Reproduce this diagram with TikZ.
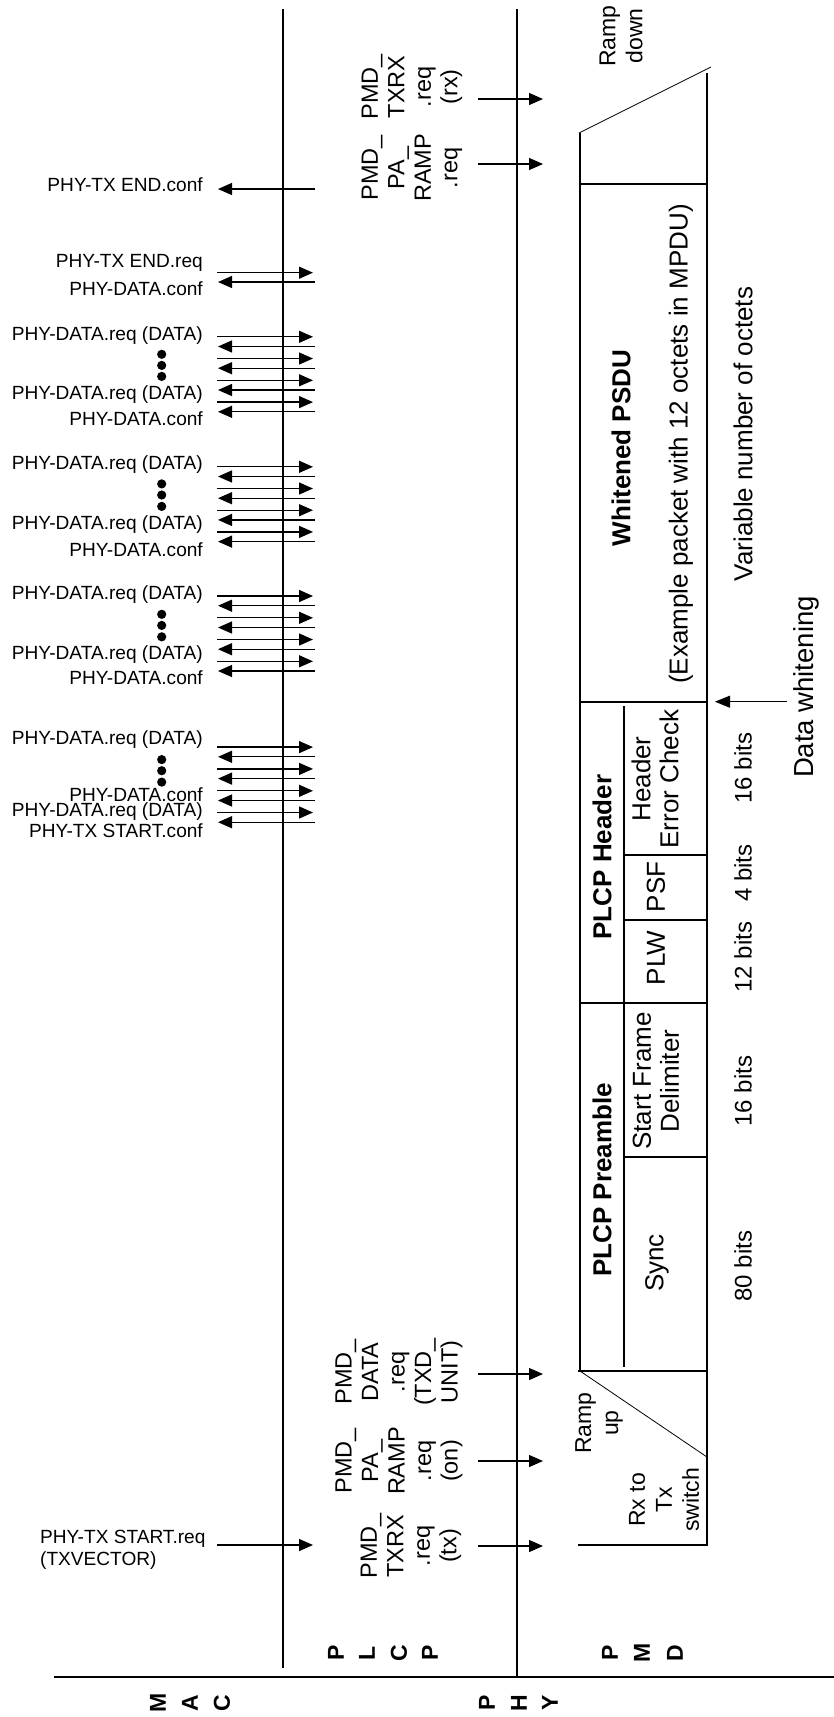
\documentclass[tikz,border=0pt]{standalone}
\usepackage{fontspec}
\setmainfont{Liberation Sans}
\usepackage{tikz}
\usetikzlibrary{arrows.meta}

\begin{document}
\begin{tikzpicture}[x=1pt, y=-1pt,
    prim/.style={font=\fontsize{19.1}{22}\selectfont, inner sep=0pt, anchor=east},
    req/.style={line width=1.3pt, -{Triangle[length=14pt, width=12pt]}},
    rtxt/.style={rotate=90, align=center, inner sep=0pt, font=\fontsize{23.5}{26.5}\selectfont},
    ramptxt/.style={rotate=90, align=center, inner sep=0pt, font=\fontsize{23}{27}\selectfont},
    boxtxt/.style={rotate=90, align=center, inner sep=0pt, font=\fontsize{26}{28}\selectfont},
    boxhead/.style={boxtxt, font=\fontsize{26}{28}\selectfont\bfseries},
    bitstxt/.style={boxtxt, font=\fontsize{24}{28}\selectfont},
    layer/.style={rotate=90, inner sep=0pt, font=\fontsize{23}{23}\selectfont\bfseries},
    frame/.style={line width=2.6pt},
    field/.style={line width=1.2pt}]

      \useasboundingbox (0,0) rectangle (834,1717);

      % Layer boundaries
      \draw[line width=2.5pt] (283,9) -- (283,1668);
      \draw[line width=1.2pt] (517,9) -- (517,1677);
      \draw[line width=1.4pt] (54,1677) -- (834,1677);

      \node[layer] (macM) at (158,1703) {M};
      \node[layer] (macA) at (190,1703) {A};
      \node[layer] (macC) at (222,1703) {C};
      \node[layer] (phyP) at (487,1703) {P};
      \node[layer] (phyH) at (519,1703) {H};
      \node[layer] (phyY) at (550,1703) {Y};
      \node[layer] (plcpP) at (336,1653) {P};
      \node[layer] (plcpL) at (367,1653) {L};
      \node[layer] (plcpC) at (399,1653) {C};
      \node[layer] (plcpQ) at (430,1653) {P};
      \node[layer] (pmdP) at (610,1653) {P};
      \node[layer] (pmdM) at (642,1653) {M};
      \node[layer] (pmdD) at (675,1653) {D};

      % MAC primitives
      \node[prim] (lEndConf) at (203,185) {PHY-TX END.conf};
      \node[prim] (lEndReq) at (203,263.3) {PHY-TX END.req};
      \node[prim] (lConf0) at (203,288.7) {PHY-DATA.conf};

      \node[prim] (lReq1a) at (203,335.7) {PHY-DATA.req (DATA)};
      \node[prim] (lReq1b) at (203,394.6) {PHY-DATA.req (DATA)};
      \node[prim] (lConf1) at (203,418.9) {PHY-DATA.conf};
      \node[prim] (lReq2a) at (203,465) {PHY-DATA.req (DATA)};
      \node[prim] (lReq2b) at (203,524.3) {PHY-DATA.req (DATA)};
      \node[prim] (lConf2) at (203,550) {PHY-DATA.conf};
      \node[prim] (lReq3a) at (203,595) {PHY-DATA.req (DATA)};
      \node[prim] (lReq3b) at (203,654.3) {PHY-DATA.req (DATA)};
      \node[prim] (lConf3) at (203,677.9) {PHY-DATA.conf};
      \node[prim] (lReq4a) at (203,739.3) {PHY-DATA.req (DATA)};
      \node[prim] (lConf4) at (203,794.6) {PHY-DATA.conf};
      \node[prim] (lReq4b) at (203,811.4) {PHY-DATA.req (DATA)};
      \node[prim] (lStartConf) at (203,830.4) {PHY-TX START.conf};
      \node[prim, anchor=west, align=left] (lStartReq) at (40,1550) {PHY-TX START.req\\(TXVECTOR)};

      \foreach \y in {354.3, 365.4, 376.4, 483.9, 495, 506.4, 614.3, 625.4, 636.8, 759.6, 770.7, 782.1}
        \fill (161.7,\y) circle (4.6);

      \foreach \y [count=\i] in {272.7, 336.8, 358.5, 380.3, 402.1, 466.8, 488.5, 510.2, 531.9,
          596, 617.8, 639.5, 661.3, 747.1, 768.9, 790.8, 812.5, 1545} {
        \coordinate (rqa\i) at (217,\y);
        \coordinate (rqb\i) at (313,\y);
        \draw[req] (rqa\i) -- (rqb\i);
      }
      \foreach \y [count=\i] in {189, 282, 346.5, 368.2, 390, 411.8, 476.5, 498.2, 519.9, 541.6,
          605.7, 627.5, 649.2, 671, 756.8, 778.6, 800.5, 822.2} {
        \coordinate (cfa\i) at (315,\y);
        \coordinate (cfb\i) at (218,\y);
        \draw[req] (cfa\i) -- (cfb\i);
      }

      % PLCP to PMD primitives
      \node[rtxt] (tTxrxRx) at (412,87) {PMD\_\\TXRX\\.req\\(rx)};
      \node[rtxt] (tRampOff) at (412,168) {PMD\_\\PA\_\\RAMP\\.req};
      \node[rtxt] (tData) at (399,1372) {PMD\_\\DATA\\.req\\(TXD\_\\UNIT)};
      \node[rtxt] (tRampOn) at (399,1461) {PMD\_\\PA\_\\RAMP\\.req\\(on)};
      \node[rtxt] (tTxrxTx) at (411,1546) {PMD\_\\TXRX\\.req\\(tx)};

      \foreach \y [count=\i] in {99, 164, 1374, 1461, 1546} {
        \coordinate (pma\i) at (478,\y);
        \coordinate (pmb\i) at (543,\y);
        \draw[req] (pma\i) -- (pmb\i);
      }

      % PMD frame
      \draw[line width=0.8pt] (579,133) -- (711,67);
      \draw[frame] (707,73) -- (707,1545) -- (578,1545);
      \draw[frame] (580,133) -- (580,1371);
      \draw[frame] (580,184) -- (707,184);
      \draw[frame] (580,702) -- (707,702);
      \draw[frame] (580,1003) -- (707,1003);
      \draw[frame] (578,1371) -- (707,1371);
      \draw[line width=0.8pt] (580,1371) -- (707,1457);
      \draw[field] (624,706) -- (624,1367);
      \draw[field] (624,855) -- (707,855);
      \draw[field] (624,920) -- (707,920);
      \draw[field] (624,1157) -- (707,1157);

      \node[ramptxt] (tRampDown) at (621,36) {Ramp\\down};
      \node[boxhead] (tPsdu) at (621,448) {Whitened PSDU};
      \node[boxtxt] (tExample) at (681,444) {(Example packet with 12 octets in MPDU)};
      \node[boxhead] (tHeader) at (602,857) {PLCP Header};
      \node[boxhead] (tPreamble) at (602,1180) {PLCP Preamble};
      \node[boxtxt] (tHec) at (655,779) {Header\\Error Check};
      \node[boxtxt] (tPsf) at (656,887) {PSF};
      \node[boxtxt] (tPlw) at (656,958) {PLW};
      \node[boxtxt] (tSfd) at (656,1081) {Start Frame\\Delimiter};
      \node[boxtxt] (tSync) at (657,1263) {Sync};
      \node[ramptxt] (tRampUp) at (599,1423) {Ramp\\up};
      \node[ramptxt] (tSwitch) at (664,1500) {Rx to\\Tx\\switch};

      % Field lengths
      \node[boxtxt] (tVar) at (743,434) {Variable number of octets};
      \node[bitstxt] (bHec) at (743,768) {16 bits};
      \node[bitstxt] (bPsf) at (743,873) {4 bits};
      \node[bitstxt] (bPlw) at (743,957) {12 bits};
      \node[bitstxt] (bSfd) at (743,1091) {16 bits};
      \node[bitstxt] (bSync) at (743,1266) {80 bits};

      % Data whitening
      \node[boxtxt, font=\fontsize{27.5}{30}\selectfont] (tWhiten) at (806.5,687) {Data whitening};
      \coordinate (dwTail) at (787,701.7);
      \coordinate (dwTip) at (715,701.7);
      \draw[line width=1pt, -{Triangle[length=15pt, width=12pt]}] (dwTail) -- (dwTip);
    \end{tikzpicture}
\end{document}
